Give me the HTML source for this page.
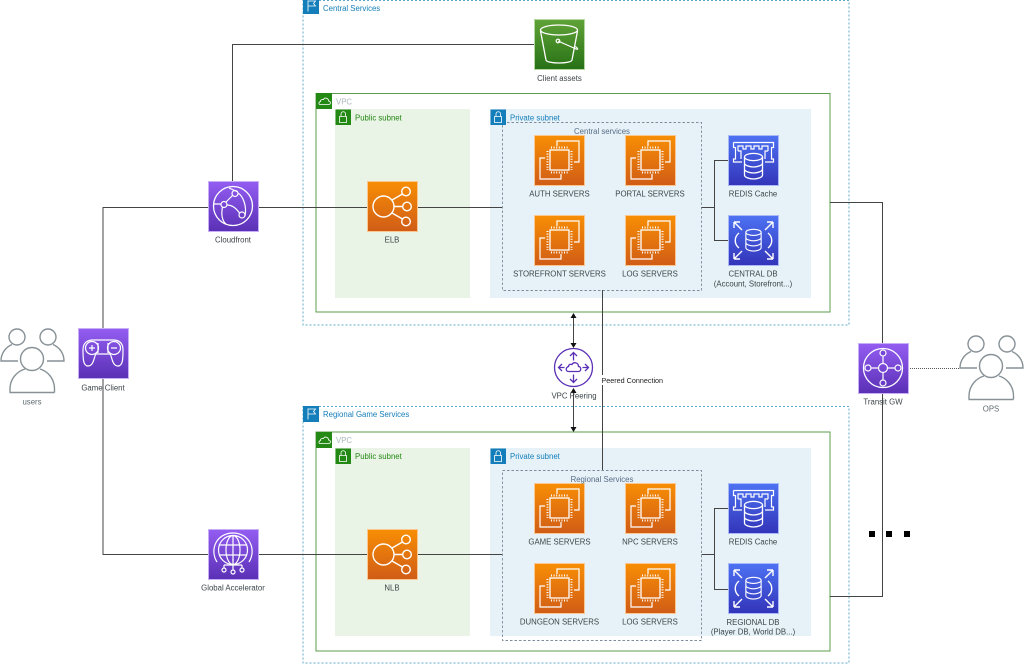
<!DOCTYPE html>
<html>
<head>
<meta charset="utf-8">
<style>
html,body{margin:0;padding:0;background:#fff;}
svg{display:block;filter:blur(0.35px);}
text{font-family:"Liberation Sans",sans-serif;font-size:7.8px;fill:#3d4548;}
.m{text-anchor:middle;}
.ln{fill:none;stroke:#444;stroke-width:1;}
.w{fill:none;stroke:#fff;stroke-width:1.2;}
</style>
</head>
<body>
<svg width="1024" height="664" viewBox="0 0 1024 664" xmlns="http://www.w3.org/2000/svg">
<defs>
<linearGradient id="o" x1="0" y1="0" x2="0" y2="1"><stop offset="0" stop-color="#F78E04"/><stop offset="1" stop-color="#D05C17"/></linearGradient>
<linearGradient id="p" x1="0" y1="0" x2="0" y2="1"><stop offset="0" stop-color="#945DF2"/><stop offset="1" stop-color="#5A30B5"/></linearGradient>
<linearGradient id="b" x1="0" y1="0" x2="0" y2="1"><stop offset="0" stop-color="#4D72F3"/><stop offset="1" stop-color="#3334B9"/></linearGradient>
<linearGradient id="g" x1="0" y1="0" x2="0" y2="1"><stop offset="0" stop-color="#60A337"/><stop offset="1" stop-color="#277116"/></linearGradient>

<g id="ec2">
<rect x=".5" y=".5" width="50" height="50" fill="url(#o)" stroke="#fbc78f" stroke-width="1"/>
<path class="w" d="M23 11V6H45V27H40M11 23H6V44H27V39"/>
<rect x="16" y="15" width="19" height="20" fill="none" stroke="#fff" stroke-width="1.3"/>
<path class="w" stroke-dasharray="1 1.6" d="M13.5 16V35M37.5 16V35M17 12.5H35M17 37.5H35" style="stroke-width:2"/>
</g>
<g id="lb">
<rect x=".5" y=".5" width="50" height="50" fill="url(#o)" stroke="#fbc78f" stroke-width="1"/>
<circle cx="16.5" cy="25.5" r="10.5" class="w" style="stroke-width:1.4"/>
<circle cx="39" cy="10.5" r="4.3" class="w" style="stroke-width:1.4"/>
<circle cx="40" cy="25.5" r="4.3" class="w" style="stroke-width:1.4"/>
<circle cx="39" cy="40.5" r="4.3" class="w" style="stroke-width:1.4"/>
<path class="w" d="M25 19L35.5 13M27 25.5H35.7M25 32L35.5 38" style="stroke-width:1.4"/>
</g>
<g id="cyl">
<ellipse cx="0" cy="-9" rx="9" ry="3.6" class="w" style="stroke-width:1.3"/>
<path class="w" style="stroke-width:1.3" d="M-9 -9V9C-9 11.4 -4 13 0 13S9 11.4 9 9V-9M-9 -3C-9 -0.6 -4 1 0 1S9 -0.6 9 -3M-9 3C-9 5.4 -4 7 0 7S9 5.4 9 3"/>
</g>
<g id="redis">
<rect x=".5" y=".5" width="50" height="50" fill="url(#b)" stroke="#a9b9f7" stroke-width="1"/>
<path class="w" d="M5.500 7.500H45.500V12.500H43.500V24H45.500V27H37M5.500 7.500V12.500H7.500V24H5.500V27H14"/>
<path class="w" d="M10 16V11H15V14H18V11H23V14H26V11H31V14H34V11H40V16M10 16H13V24M40 16H37V24"/>
<use href="#cyl" x="25.500" y="31"/>
</g>
<g id="db">
<rect x=".5" y=".5" width="50" height="50" fill="url(#b)" stroke="#a9b9f7" stroke-width="1"/>
<g transform="translate(25.500,25) scale(.85)"><use href="#cyl"/></g>
<path class="w" style="stroke-width:1.4" d="M6 7L14 15M6 7H12M6 7V13M45 7L37 15M45 7H39M45 7V13M6 44L14 36M6 44H12M6 44V38M45 44L37 36M45 44H39M45 44V38M11 18C6 22 6 29 11 33M40 18C45 22 45 29 40 33"/>
</g>
<g id="ppl" fill="none" stroke="#879196" stroke-width="1.4">
<circle cx="17" cy="337" r="8"/>
<circle cx="48" cy="337" r="8"/>
<circle cx="32" cy="359" r="11.5"/>
<path d="M10 392.500V389C10 378 18 371 25 369M54.500 392.500V389C54.500 378 47 371 40 369M9.500 392.500H54.500"/>
<path d="M18 361H1C1 353 6 347 12 344.500M47 361H64C64 353 59 347 53 344.500"/>
</g>
<g id="lock">
<rect x=".5" y=".5" width="15.500" height="15.500" stroke="none"/>
<path d="M4.500 7.500H11.500V13.500H4.500ZM6 7.500V5C6 2 10.500 2 10.500 5V7.500" fill="none" stroke="#fff" stroke-width=".8"/>
</g>
<g id="cloud">
<path d="M4 11.500H12.500C15 11.500 15 8 12.500 8C12.500 5 8.500 4 7.500 6.500C5 6 4 8 4.500 8.500C2.500 9 2.500 11.500 4 11.500Z" fill="none" stroke="#fff" stroke-width=".8"/>
</g>
<g id="flag">
<rect x="0" y="0" width="16" height="16" stroke="none"/>
<path d="M5 2.500V13.500M5 3H12.500L10.500 5.500L12.500 8H5" fill="none" stroke="#fff" stroke-width=".8"/>
</g>
</defs>

<rect width="1024" height="664" fill="#fff"/>

<!-- groups -->
<rect x="303" y="0.500" width="546" height="324.500" fill="none" stroke="#5fa8c7" stroke-width="1" stroke-dasharray="2 2"/>
<rect x="303" y="406.500" width="546" height="256.500" fill="none" stroke="#5fa8c7" stroke-width="1" stroke-dasharray="2 2"/>
<rect x="316" y="93.500" width="514" height="218.500" fill="none" stroke="#5c9e4e" stroke-width="1"/>
<rect x="316" y="432" width="514" height="219" fill="none" stroke="#5c9e4e" stroke-width="1"/>
<rect x="335" y="109" width="135" height="189" fill="#E9F3E6"/>
<rect x="490" y="109" width="321" height="189" fill="#E6F2F8"/>
<rect x="335" y="448" width="135" height="188" fill="#E9F3E6"/>
<rect x="490" y="448" width="321" height="188" fill="#E6F2F8"/>
<rect x="502.500" y="122.500" width="199" height="168" fill="none" stroke="#7d8c9a" stroke-width=".9" stroke-dasharray="2.500 2"/>
<rect x="502.500" y="470.500" width="199" height="170" fill="none" stroke="#7d8c9a" stroke-width=".9" stroke-dasharray="2.500 2"/>

<!-- connectors -->
<path class="ln" d="M103 328V207.500H208M258 207.500H367M417 207.500H502"/>
<path class="ln" d="M103 379V554.500H208M258 554.500H367M417 554.500H502"/>
<path class="ln" d="M232.500 181V44.500H534"/>
<path class="ln" d="M701.500 207.500H714.500M728 160.500H714.500V240.500H728"/>
<path class="ln" d="M701.500 554.500H714.500M728 508.500H714.500V589.500H728"/>
<path class="ln" d="M830 202.500H882.500V343M882.500 393V596.500H830"/>
<path d="M908 368.500H960" fill="none" stroke="#555" stroke-width="1" stroke-dasharray="1 1"/>
<path class="ln" d="M602.500 290V470"/>
<path class="ln" d="M573.500 316V343M573.500 391V427"/>
<path fill="#111" d="M573.500 313L570.500 318H576.500ZM573.500 348L570.500 343H576.500ZM573.500 388L570.500 393H576.500ZM573.500 432L570.500 427H576.500Z"/>
<rect x="601" y="375" width="60" height="10" fill="#fff"/>

<!-- group badges -->
<use href="#flag" x="303" y="-2" fill="#147EBA"/>
<use href="#flag" x="303" y="406" fill="#147EBA"/>
<g fill="#248814">
<rect x="316" y="93" width="16" height="16"/>
<rect x="316" y="432" width="16" height="16"/>
<use href="#lock" x="335" y="109"/>
<use href="#lock" x="335" y="448"/>
</g>
<use href="#cloud" x="316" y="93"/>
<use href="#cloud" x="316" y="432"/>
<g fill="#147EBA">
<use href="#lock" x="490" y="109"/>
<use href="#lock" x="490" y="448"/>
</g>

<!-- S3 -->
<g transform="translate(534,19)">
<rect x=".5" y=".5" width="50" height="50" fill="url(#g)" stroke="#b4d69f" stroke-width="1"/>
<ellipse cx="25" cy="11" rx="18.500" ry="5" class="w" style="stroke-width:1.3"/>
<path class="w" style="stroke-width:1.3" d="M6.500 12L12 41C13 45 37 45 38 41L43.500 12"/>
<path class="w" d="M24 22L41 29.500C45 31.500 44 29 41 27.500"/>
<circle cx="24" cy="22" r="1.800" class="w"/>
</g>

<!-- EC2 -->
<use href="#ec2" x="534" y="135"/>
<use href="#ec2" x="625" y="135"/>
<use href="#ec2" x="534" y="215"/>
<use href="#ec2" x="625" y="215"/>
<use href="#ec2" x="534" y="483"/>
<use href="#ec2" x="625" y="483"/>
<use href="#ec2" x="534" y="563"/>
<use href="#ec2" x="625" y="563"/>
<use href="#redis" x="728" y="135"/>
<use href="#db" x="728" y="215"/>
<use href="#redis" x="728" y="483"/>
<use href="#db" x="728" y="563"/>
<use href="#lb" x="367" y="181"/>
<use href="#lb" x="367" y="529"/>

<!-- Cloudfront -->
<g transform="translate(208,181)">
<rect x=".5" y=".5" width="50" height="50" fill="url(#p)" stroke="#c8aef6" stroke-width="1"/>
<circle cx="25" cy="25" r="19.500" class="w" style="stroke-width:1.3"/>
<circle cx="27" cy="12.500" r="3" class="w"/><circle cx="16" cy="23.500" r="3" class="w"/><circle cx="34" cy="34" r="3" class="w"/>
<path class="w" d="M18 21L24.500 14.500M19 24C24 24 28 27 31.500 32M30 12C35 15 39 25 37 35M14.500 26C13 33 14 40 18 43M13 23H6M30 11L21 7"/>
</g>

<!-- Global Accelerator -->
<g transform="translate(208,529)">
<rect x=".5" y=".5" width="50" height="50" fill="url(#p)" stroke="#c8aef6" stroke-width="1"/>
<circle cx="25" cy="21" r="14.500" class="w"/>
<ellipse cx="25" cy="21" rx="7" ry="14.500" class="w"/>
<path class="w" d="M25 6.500V32M11 16H39M11 26H39"/>
<path class="w" d="M9 33C1 20 9 4 25 4S49 20 41 33"/>
<path class="w" d="M25 30V41M16 36H34M16 36V39M34 36V39"/>
<circle cx="16" cy="41" r="2" class="w"/><circle cx="25" cy="43" r="2" class="w"/><circle cx="34" cy="41" r="2" class="w"/>
</g>

<!-- Game Client -->
<g transform="translate(78,328)">
<rect x=".5" y=".5" width="50" height="50" fill="url(#p)" stroke="#c8aef6" stroke-width="1"/>
<path class="w" d="M15 12H35C42 12 45 16 45 22C45 30 45 38 40 38C34 38 34 28 32 26H18C16 28 16 38 10 38C5 38 5 30 5 22C5 16 8 12 15 12Z"/>
<circle cx="14" cy="20" r="6.500" class="w"/><circle cx="36" cy="20" r="6.500" class="w"/>
<path class="w" d="M11 20H17M14 17V23M33 20H39M20 15V25M30 15V25"/>
</g>

<!-- Transit GW -->
<g transform="translate(858,343)">
<rect x=".5" y=".5" width="50" height="50" fill="url(#p)" stroke="#c8aef6" stroke-width="1"/>
<circle cx="25" cy="25" r="19.500" class="w" style="stroke-width:1.300"/>
<circle cx="25" cy="25" r="4.500" class="w"/>
<circle cx="25" cy="10" r="3" fill="#7446d5" stroke="#fff" stroke-width="1.200"/><circle cx="25" cy="40" r="3" fill="#6a3cc8" stroke="#fff" stroke-width="1.200"/>
<circle cx="10" cy="25" r="3" fill="#7446d5" stroke="#fff" stroke-width="1.200"/><circle cx="40" cy="25" r="3" fill="#7446d5" stroke="#fff" stroke-width="1.200"/>
<path class="w" d="M25 13V20.500M25 29.500V37M13 25H20.500M29.500 25H37"/>
</g>

<!-- VPC Peering -->
<g transform="translate(573.500,367.500)" fill="none" stroke="#5A30B5" stroke-width="1.300">
<circle r="19"/>
<path d="M0 -15V-7M-3.500 -11.500L0 -15L3.500 -11.500M0 15V7M-3.500 11.500L0 15L3.500 11.500M-15 0H-9M-11.500 -3.500L-15 0L-11.500 3.500M15 0H9M11.500 -3.500L15 0L11.500 3.500"/>
<path d="M-5 4H5C8 4 8 -1 5 -1C5 -5 0 -6 -1.500 -3C-4 -4 -5 -2 -5 -1C-8 0 -8 4 -5 4Z"/>
</g>

<!-- people -->
<use href="#ppl"/>
<use href="#ppl" x="959" y="7"/>

<!-- dots -->
<g fill="#000">
<rect x="869" y="531" width="6" height="6"/>
<rect x="886" y="531" width="6" height="6"/>
<rect x="904" y="531" width="6" height="6"/>
</g>

<!-- labels -->
<text x="323" y="11" style="fill:#147EBA">Central Services</text>
<text x="323" y="417" style="fill:#147EBA">Regional Game Services</text>
<text x="336" y="104.500" style="fill:#AAB7B8">VPC</text>
<text x="336" y="443" style="fill:#AAB7B8">VPC</text>
<text x="355" y="120.500" style="fill:#248814">Public subnet</text>
<text x="355" y="459" style="fill:#248814">Public subnet</text>
<text x="510" y="120.500" style="fill:#147EBA">Private subnet</text>
<text x="510" y="459" style="fill:#147EBA">Private subnet</text>
<text x="602" y="134" class="m" style="fill:#5A6C86">Central services</text>
<text x="602" y="482" class="m" style="fill:#5A6C86">Regional Services</text>
<text x="559.500" y="81" class="m">Client assets</text>
<text x="559.500" y="196.500" class="m">AUTH SERVERS</text>
<text x="650" y="196.500" class="m">PORTAL SERVERS</text>
<text x="559.500" y="276.500" class="m">STOREFRONT SERVERS</text>
<text x="650" y="276.500" class="m">LOG SERVERS</text>
<text x="753" y="196.500" class="m">REDIS Cache</text>
<text x="753" y="276.500" class="m">CENTRAL DB</text>
<text x="753" y="286.500" class="m">(Account, Storefront...)</text>
<text x="559.500" y="544.500" class="m">GAME SERVERS</text>
<text x="650" y="544.500" class="m">NPC SERVERS</text>
<text x="559.500" y="624.500" class="m">DUNGEON SERVERS</text>
<text x="650" y="624.500" class="m">LOG SERVERS</text>
<text x="753" y="544.500" class="m">REDIS Cache</text>
<text x="753" y="625" class="m">REGIONAL DB</text>
<text x="753" y="634.500" class="m">(Player DB, World DB...)</text>
<text x="392" y="242.500" class="m">ELB</text>
<text x="392" y="590.500" class="m">NLB</text>
<text x="233" y="242.500" class="m">Cloudfront</text>
<text x="233" y="590.500" class="m">Global Accelerator</text>
<text x="103" y="390.500" class="m">Game Client</text>
<text x="32" y="404.500" class="m" style="fill:#5f6b70">users</text>
<text x="883" y="404.500" class="m">Transit GW</text>
<text x="991" y="411.500" class="m" style="fill:#5f6b70">OPS</text>
<text x="574" y="398.500" class="m">VPC Peering</text>
<text x="601.500" y="383" style="font-size:7.200px;fill:#222">Peered Connection</text>
</svg>
</body>
</html>
